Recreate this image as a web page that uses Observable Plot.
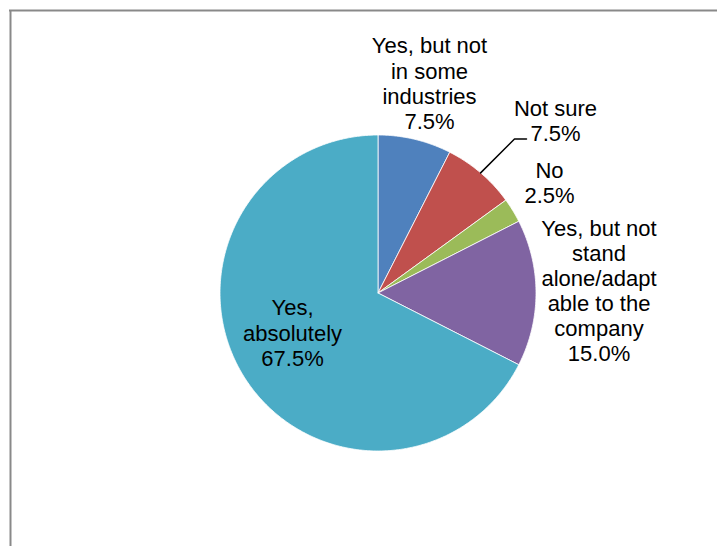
<!DOCTYPE html>
<html>
<head>
<meta charset="utf-8">
<script src="https://cdn.jsdelivr.net/npm/d3@7"></script>
<script src="https://cdn.jsdelivr.net/npm/@observablehq/plot@0.6"></script>
<style>
  html, body { margin: 0; padding: 0; background: #fff; }
  #chart svg { display: block; }
</style>
</head>
<body>
<div id="chart"></div>
<script>
// ---- data ----
const categories = [
  "Yes, but not in some industries",
  "Not sure",
  "No",
  "Yes, but not stand alone/adaptable to the company",
  "Yes, absolutely"
];
const values = [7.5, 7.5, 2.5, 15.0, 67.5];
const labelText = [
  "Yes, but not\nin some\nindustries",
  "Not sure",
  "No",
  "Yes, but not\nstand\nalone/adapt\nable to the\ncompany",
  "Yes,\nabsolutely"
];
const colors = ["#4F81BD", "#C0504D", "#9BBB59", "#8064A2", "#4BACC6"];

// ---- layout ----
const W = 717, H = 546;
const cx = 377.5, cy = 292.5, R = 158;
const labelPos = [
  [429, 82.5],
  [555, 119.5],
  [549, 181.5],
  [598.5, 290],
  [292, 332]
];
// leader line for "Not sure": from label corner to slice edge
const leaderFrom = [526, 138.5], leaderElbow = [514, 138.5];

const pie = d3.pie().sort(null).value(d => d.value);
const rows = categories.map((c, i) => ({category: c, value: values[i], i}));
const arcs = pie(rows);

const slicePts = [];
for (const a of arcs) {
  const n = Math.max(4, Math.ceil((a.endAngle - a.startAngle) / 0.01));
  slicePts.push({category: a.data.category, x: cx, y: cy});
  for (let k = 0; k <= n; k++) {
    const t = a.startAngle + (a.endAngle - a.startAngle) * k / n;
    slicePts.push({category: a.data.category, x: cx + R * Math.sin(t), y: cy - R * Math.cos(t)});
  }
  slicePts.push({category: a.data.category, x: cx, y: cy});
}

const labels = arcs.map((a, i) => ({
  x: labelPos[i][0], y: labelPos[i][1],
  text: labelText[i] + "\n" + a.data.value.toFixed(1) + "%"
}));

// leader line for Not sure (slice index 1), ending at the arc midpoint
const ns = arcs[1];
const mid = (ns.startAngle + ns.endAngle) / 2;
const leader = [
  {x: leaderFrom[0], y: leaderFrom[1]},
  {x: leaderElbow[0], y: leaderElbow[1]},
  {x: cx + R * Math.sin(mid), y: cy - R * Math.cos(mid)}
];

const chart = Plot.plot({
  width: W, height: H,
  margin: 0,
  x: {domain: [0, W], range: [0, W], axis: null},
  y: {domain: [0, H], range: [0, H], axis: null},
  color: {domain: categories, range: colors},
  style: {fontFamily: "'Liberation Sans', Arial, sans-serif", background: "#fff"},
  marks: [
    Plot.ruleX([10], {y1: 10, y2: H + 5, stroke: "#898989", strokeWidth: 2}),
    Plot.ruleY([10], {x1: 9, x2: W + 5, stroke: "#898989", strokeWidth: 2}),
    Plot.line(slicePts, {x: "x", y: "y", z: "category", fill: "category", stroke: "#fff", strokeWidth: 0.8, strokeLinejoin: "round"}),
    Plot.line(leader, {x: "x", y: "y", stroke: "#000", strokeWidth: 1.5}),
    Plot.text(labels, {x: "x", y: "y", text: "text", fontSize: 22, lineHeight: 1.14, lineAnchor: "middle", fill: "#000"})
  ]
});
document.getElementById("chart").appendChild(chart);
</script>
</body>
</html>
